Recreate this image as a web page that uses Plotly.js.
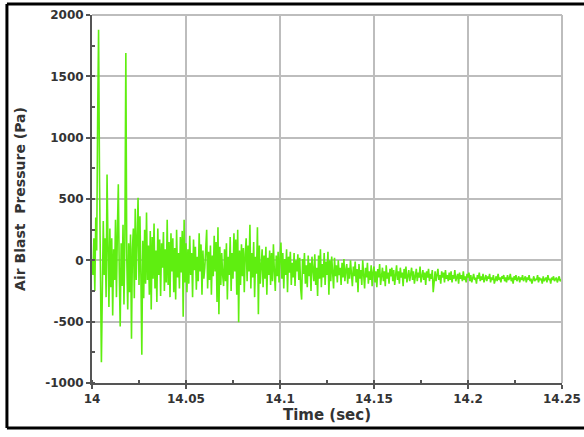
<!DOCTYPE html>
<html>
<head>
<meta charset="utf-8">
<script src="https://cdn.plot.ly/plotly-3.0.1.min.js"></script>
<style>html,body{margin:0;padding:0;background:#fff;}#chart{width:584px;height:437px;}</style>
</head>
<body>
<div id="chart"></div>
<script>
// Sampling grid of the recording
const T_START = 14.0;
const T_STEP = 0.0005;

// Air blast pressure (Pa), in blocks of 0.01 s
const pressure = [
  // 14.000 - 14.0095
  0, -120, 180, -250, 350, 80, 1150, 1880, 650, -380, -830, -250, 320, -120, 180, -300, 700, 120, -380, 260,
  // 14.010
  -220, 180, -450, 90, -160, 330, -300, 240, 620, -90, -540, 140, -210, 290, -360, 180, 1690, 20, -400, 140,
  // 14.020
  -260, 210, -640, 90, 260, -310, 420, -160, 110, 510, -200, 360, -120, -770, 160, -310, 250, -190, 390, -160,
  // 14.030
  120, -280, 240, -400, 190, -150, 300, -230, 80, -340, 260, -120, 170, -290, 140, -60, 230, -250, 90, -180,
  // 14.040
  330, -200, 150, -300, 220, -90, 180, -260, 100, -320, 250, -140, 60, -230, 190, -100, 240, -460, 330, -180,
  // 14.050
  140, -260, 90, -190, 200, -120, 60, -300, 170, -80, 110, -240, 30, -170, 220, -90, 130, -280, 80, -150,
  // 14.060
  -60, 180, 250, -230, 70, -160, 120, -280, 40, -130, 200, -90, 150, -340, 270, -440, 110, -200, 60, -120,
  // 14.070
  -210, 90, -170, 140, -320, 30, -120, 190, -250, 60, -150, 220, -90, 170, -280, 250, -505, 80, -200, 130,
  // 14.080
  -130, 100, -260, 50, 180, -170, 120, -90, 290, -230, 60, -140, 150, -300, 30, -110, 270, -440, 120, -190,
  // 14.090
  -60, 90, -220, 40, -150, 110, -280, 20, -120, 80, -200, 60, -170, 130, -90, -250, 40, -130, 70, -180,
  // 14.100
  20, 145, -150, 60, -230, 10, -120, 90, -260, 30, -100, 70, -200, -20, -140, 60, -210, 0, -90, 50,
  // 14.110
  -160, 20, -230, -320, 10, -110, 60, -190, -40, -220, 40, -130, -20, -250, 30, -90, -170, 50, -200, -60,
  // 14.120
  -290, 40, -150, 90, -220, -30, -140, 60, -200, -10, -120, 70, -280, 0, -170, 30, -100, -230, 20, -130,
  // 14.130
  -40, -180, 0, -120, -60, -200, -20, -140, 10, -170, -80, -30, -190, -60, -150, 0, -110, -210, -50, -130,
  // 14.140
  -10, -180, -70, -260, -30, -150, -80, -200, 0, -120, -230, -60, -140, -20, -190, -90, -160, -40, -210, -100,
  // 14.150
  -50, -180, -90, -220, -70, -140, -30, -200, -110, -60, -170, -90, -210, -40, -150, -100, -190, -70, -130, -60,
  // 14.160
  -170, -80, -200, -110, -40, -160, -90, -190, -60, -140, -100, -210, -70, -150, -50, -180, -120, -80, -170, -100,
  // 14.170
  -60, -160, -90, -190, -110, -70, -170, -100, -140, -50, -180, -120, -80, -160, -100, -200, -90, -140, -70, -170,
  // 14.180
  -110, -150, -80, -260, -130, -90, -170, -110, -70, -160, -120, -190, -90, -140, -100, -180, -80, -150, -120, -170,
  // 14.190
  -100, -160, -90, -180, -120, -150, -80, -170, -130, -110, -190, -100, -150, -120, -170, -90, -160, -130, -180, -110,
  // 14.200
  -140, -100, -170, -120, -180, -130, -110, -160, -140, -190, -120, -150, -100, -170, -130, -160, -110, -180, -140, -120,
  // 14.210
  -170, -130, -150, -110, -180, -140, -160, -120, -190, -150, -130, -170, -110, -160, -140, -180, -130, -150, -120, -170,
  // 14.220
  -140, -180, -120, -160, -150, -110, -170, -140, -190, -130, -160, -120, -170, -150, -130, -180, -140, -160, -120, -170,
  // 14.230
  -150, -130, -180, -140, -160, -120, -170, -150, -190, -140, -130, -170, -150, -160, -120, -180, -140, -160, -150, -190,
  // 14.240 - 14.250
  -130, -170, -150, -140, -180, -120, -160, -150, -190, -140, -160, -130, -170, -150, -140, -180, -150, -130, -170, -160, -150
];

const xTickVals = [14, 14.05, 14.1, 14.15, 14.2, 14.25];
const xTickText = ['14', '14.05', '14.1', '14.15', '14.2', '14.25'];
const yTickVals = [-1000, -500, 0, 500, 1000, 1500, 2000];
const yTickText = ['-1000', '-500', '0', '500', '1000', '1500', '2000'];

const time = pressure.map((_, i) => +(T_START + i * T_STEP).toFixed(4));

const tickFont = {family: 'DejaVu Sans', size: 12, color: '#333', weight: 'bold'};
const titleFont = {family: 'DejaVu Sans', size: 14, color: '#333', weight: 'bold'};

const trace = {
  x: time, y: pressure, type: 'scatter', mode: 'lines',
  line: {color: '#5fee10', width: 1.6},
  hoverinfo: 'skip'
};

const layout = {
  width: 584, height: 437,
  margin: {l: 92, r: 22, t: 15, b: 54},
  paper_bgcolor: '#fff', plot_bgcolor: '#fff',
  showlegend: false,
  xaxis: {
    range: [14, 14.25], tickvals: xTickVals, ticktext: xTickText,
    showgrid: true, gridcolor: '#bdbdbd', gridwidth: 2,
    showline: true, linecolor: '#555', linewidth: 2, mirror: false,
    ticks: 'outside', ticklen: 4, tickcolor: '#555', tickwidth: 2,
    minor: {dtick: 0.025, tick0: 14, ticks: 'inside', ticklen: 3, tickcolor: '#555', tickwidth: 2, showgrid: false},
    zeroline: false, tickfont: tickFont,
    title: {text: 'Time (sec)', font: {family: 'DejaVu Sans', size: 15, color: '#333', weight: 'bold'}, standoff: 2}
  },
  yaxis: {
    range: [-1000, 2000], tickvals: yTickVals, ticktext: yTickText,
    showgrid: true, gridcolor: '#bdbdbd', gridwidth: 2,
    showline: true, linecolor: '#555', linewidth: 2,
    ticks: 'outside', ticklen: 4, tickcolor: '#555', tickwidth: 2,
    minor: {dtick: 250, tick0: -1000, ticks: 'inside', ticklen: 3, tickcolor: '#555', tickwidth: 2, showgrid: false},
    zeroline: false, tickfont: tickFont,
    title: {text: 'Air Blast  Pressure (Pa)', font: titleFont, standoff: 16}
  },
  shapes: [
    {type: 'line', xref: 'paper', yref: 'paper', x0: 1, x1: 1, y0: 0, y1: 1, line: {color: '#bdbdbd', width: 2}},
    {type: 'line', xref: 'paper', yref: 'paper', x0: 0, x1: 1, y0: 1, y1: 1, line: {color: '#bdbdbd', width: 2}},
    {type: 'line', xref: 'paper', yref: 'paper', x0: -0.181, x1: 1.05, y0: 1.030, y1: 1.030, line: {color: '#000', width: 3}},
    {type: 'line', xref: 'paper', yref: 'paper', x0: -0.181, x1: -0.181, y0: -0.1223, y1: 1.030, line: {color: '#000', width: 3}},
    {type: 'line', xref: 'paper', yref: 'paper', x0: -0.181, x1: 1.05, y0: -0.1223, y1: -0.1223, line: {color: '#000', width: 3}}
  ]
};

Plotly.newPlot('chart', [trace], layout, {displayModeBar: false, staticPlot: true});
</script>
</body>
</html>
